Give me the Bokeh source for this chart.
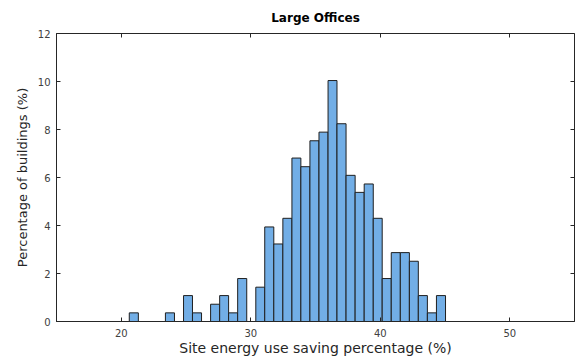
from bokeh.plotting import figure
from bokeh.models import Range1d, FixedTicker, LinearAxis
from bokeh.embed import file_html
from bokeh.resources import INLINE

# Histogram of site energy use savings for large office buildings
bin_edges = [20.62, 21.32, 22.02, 22.71, 23.41, 24.11, 24.81, 25.50, 26.20, 26.90,
             27.60, 28.29, 28.99, 29.69, 30.39, 31.08, 31.78, 32.48, 33.18, 33.87,
             34.57, 35.27, 35.97, 36.66, 37.36, 38.06, 38.76, 39.46, 40.15, 40.85,
             41.55, 42.25, 42.94, 43.64, 44.34, 45.04]
pct_buildings = [0.36, 0.00, 0.00, 0.00, 0.36, 0.00, 1.08, 0.36, 0.00, 0.72,
                 1.08, 0.36, 1.79, 0.00, 1.43, 3.94, 3.23, 4.30, 6.81, 6.45,
                 7.53, 7.89, 10.04, 8.24, 6.09, 5.38, 5.73, 4.30, 1.79, 2.87,
                 2.87, 2.51, 1.08, 0.36, 1.08]
x_ticks = [20, 30, 40, 50]
y_ticks = [0, 2, 4, 6, 8, 10, 12]

FONT = "DejaVu Sans"
AXIS_COLOR = "#262626"
TICK_TEXT = "#404040"

# only non-empty bins are drawn as bars
lefts, rights, tops = [], [], []
for i, v in enumerate(pct_buildings):
    if v > 0:
        lefts.append(bin_edges[i])
        rights.append(bin_edges[i + 1])
        tops.append(v)

p = figure(width=575, height=358, output_backend="svg", toolbar_location=None,
           x_range=Range1d(15, 55), y_range=Range1d(0, 12),
           min_border_left=56, min_border_right=1, min_border_top=32,
           min_border_bottom=34, background_fill_color="white",
           border_fill_color="white")

p.title.text = "Large Offices"
p.title.align = "center"
p.title.text_font = FONT
p.title.text_font_size = "12px"
p.title.text_font_style = "bold"
p.title.text_color = "#000000"
p.title.standoff = 17

p.quad(left=lefts, right=rights, top=tops, bottom=0,
       fill_color="#72AEE6", line_color="#1f1f1f", line_width=1)

p.grid.visible = False
p.outline_line_color = AXIS_COLOR
p.outline_line_width = 1

for ax, ticks in ((p.xaxis[0], x_ticks), (p.yaxis[0], y_ticks)):
    ax.ticker = FixedTicker(ticks=ticks)
    ax.major_tick_in = 4
    ax.major_tick_out = 0
    ax.minor_tick_in = 0
    ax.minor_tick_out = 0
    ax.axis_line_color = AXIS_COLOR
    ax.major_tick_line_color = AXIS_COLOR
    ax.major_label_text_font = FONT
    ax.major_label_text_font_size = "10px"
    ax.major_label_text_color = TICK_TEXT
    ax.axis_label_text_font = FONT
    ax.axis_label_text_font_style = "normal"
    ax.axis_label_text_color = "#262626"

p.xaxis.axis_label = "Site energy use saving percentage (%)"
p.xaxis.axis_label_text_font_size = "14px"
p.xaxis.major_label_standoff = 7
p.xaxis.axis_label_standoff = 0
p.yaxis.axis_label = "Percentage of buildings (%)"
p.yaxis.axis_label_text_font_size = "13px"
p.yaxis.major_label_standoff = 6
p.yaxis.axis_label_standoff = 5

# tick marks along the top and right edges of the box, without labels
for loc, ticks in (("above", x_ticks), ("right", y_ticks)):
    extra = LinearAxis(ticker=FixedTicker(ticks=ticks), major_tick_in=4,
                       major_tick_out=0, minor_tick_in=0, minor_tick_out=0,
                       axis_line_color=None, major_tick_line_color=AXIS_COLOR,
                       major_label_overrides={t: "" for t in ticks},
                       major_label_standoff=0)
    p.add_layout(extra, loc)

open("out.html", "w").write(file_html(p, INLINE))
